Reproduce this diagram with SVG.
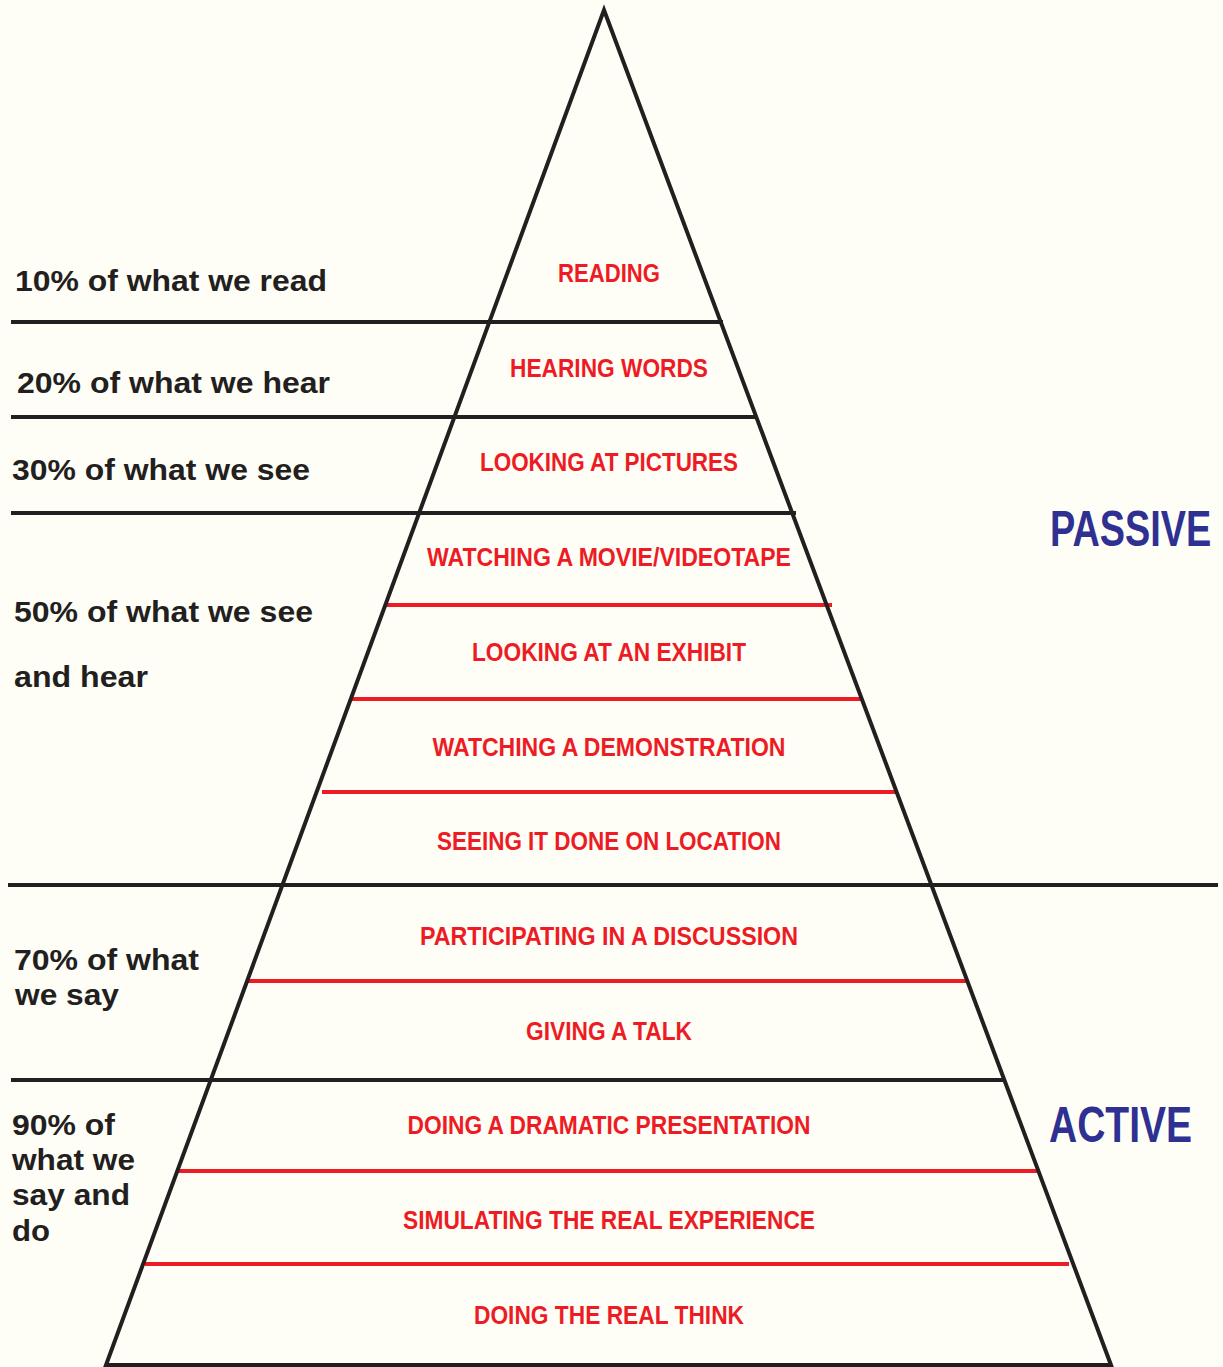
<svg xmlns="http://www.w3.org/2000/svg" width="1223" height="1367" viewBox="0 0 1223 1367">
  <style>
    .bg { fill: #fefef7; }
    .edge { fill: none; stroke: #231f20; stroke-width: 4; stroke-linejoin: miter; }
    .div { stroke: #231f20; stroke-width: 4; }
    .sub { stroke: #ed1c24; stroke-width: 4; }
    .lvl { font-family: "Liberation Sans", Arial, sans-serif; font-weight: bold; font-size: 30px; fill: #231f20; }
    .act { font-family: "Liberation Sans", Arial, sans-serif; font-weight: bold; font-size: 26px; fill: #ed1c24; text-anchor: middle; }
    .mode { font-family: "Liberation Sans", Arial, sans-serif; font-weight: bold; font-size: 50px; fill: #2e3192; }
  </style>
  <rect class="bg" x="0" y="0" width="1223" height="1367"/>

  <!-- divider lines -->
  <g id="connectors">
    <line class="div" x1="11" y1="322" x2="723" y2="322"/>
    <line class="div" x1="11" y1="417" x2="756" y2="417"/>
    <line class="div" x1="11" y1="513" x2="796" y2="513"/>
    <line class="div" x1="8" y1="885" x2="1218" y2="885"/>
    <line class="div" x1="11" y1="1080" x2="1004" y2="1080"/>
    <line class="sub" x1="386" y1="605" x2="832" y2="605"/>
    <line class="sub" x1="352" y1="699" x2="862" y2="699"/>
    <line class="sub" x1="322" y1="792" x2="897" y2="792"/>
    <line class="sub" x1="248" y1="981" x2="968" y2="981"/>
    <line class="sub" x1="178" y1="1171" x2="1038" y2="1171"/>
    <line class="sub" x1="145" y1="1264" x2="1069" y2="1264"/>
  </g>

  <!-- pyramid outline -->
  <g id="pyramid">
    <polygon class="edge" points="604,10 1111,1365 106,1365"/>
  </g>

  <!-- retention levels -->
  <g id="level-10">
    <text class="lvl" x="15" y="291" textLength="312" lengthAdjust="spacingAndGlyphs">10% of what we read</text>
  </g>
  <g id="level-20">
    <text class="lvl" x="17" y="393" textLength="313" lengthAdjust="spacingAndGlyphs">20% of what we hear</text>
  </g>
  <g id="level-30">
    <text class="lvl" x="12" y="480" textLength="298" lengthAdjust="spacingAndGlyphs">30% of what we see</text>
  </g>
  <g id="level-50">
    <text class="lvl" x="14" y="622" textLength="299" lengthAdjust="spacingAndGlyphs">50% of what we see</text>
    <text class="lvl" x="14" y="687" textLength="134" lengthAdjust="spacingAndGlyphs">and hear</text>
  </g>
  <g id="level-70">
    <text class="lvl" x="14" y="970" textLength="185" lengthAdjust="spacingAndGlyphs">70% of what</text>
    <text class="lvl" x="15" y="1005" textLength="104" lengthAdjust="spacingAndGlyphs">we say</text>
  </g>
  <g id="level-90">
    <text class="lvl" x="12" y="1135" textLength="103" lengthAdjust="spacingAndGlyphs">90% of</text>
    <text class="lvl" x="12" y="1170" textLength="123" lengthAdjust="spacingAndGlyphs">what we</text>
    <text class="lvl" x="12" y="1205" textLength="118" lengthAdjust="spacingAndGlyphs">say and</text>
    <text class="lvl" x="12" y="1241" textLength="38" lengthAdjust="spacingAndGlyphs">do</text>
  </g>

  <!-- activities -->
  <g id="reading"><text class="act" x="609" y="282" textLength="102" lengthAdjust="spacingAndGlyphs">READING</text></g>
  <g id="hearing-words"><text class="act" x="609" y="377" textLength="198" lengthAdjust="spacingAndGlyphs">HEARING WORDS</text></g>
  <g id="looking-at-pictures"><text class="act" x="609" y="471" textLength="258" lengthAdjust="spacingAndGlyphs">LOOKING AT PICTURES</text></g>
  <g id="watching-movie"><text class="act" x="609" y="566" textLength="364" lengthAdjust="spacingAndGlyphs">WATCHING A MOVIE/VIDEOTAPE</text></g>
  <g id="looking-at-exhibit"><text class="act" x="609" y="661" textLength="274" lengthAdjust="spacingAndGlyphs">LOOKING AT AN EXHIBIT</text></g>
  <g id="watching-demonstration"><text class="act" x="609" y="756" textLength="353" lengthAdjust="spacingAndGlyphs">WATCHING A DEMONSTRATION</text></g>
  <g id="seeing-on-location"><text class="act" x="609" y="850" textLength="344" lengthAdjust="spacingAndGlyphs">SEEING IT DONE ON LOCATION</text></g>
  <g id="participating-discussion"><text class="act" x="609" y="945" textLength="378" lengthAdjust="spacingAndGlyphs">PARTICIPATING IN A DISCUSSION</text></g>
  <g id="giving-talk"><text class="act" x="609" y="1040" textLength="166" lengthAdjust="spacingAndGlyphs">GIVING A TALK</text></g>
  <g id="dramatic-presentation"><text class="act" x="609" y="1134" textLength="403" lengthAdjust="spacingAndGlyphs">DOING A DRAMATIC PRESENTATION</text></g>
  <g id="simulating-experience"><text class="act" x="609" y="1229" textLength="412" lengthAdjust="spacingAndGlyphs">SIMULATING THE REAL EXPERIENCE</text></g>
  <g id="doing-real-think"><text class="act" x="609" y="1324" textLength="270" lengthAdjust="spacingAndGlyphs">DOING THE REAL THINK</text></g>

  <!-- learning modes, horizontally condensed -->
  <g id="passive"><text class="mode" transform="translate(1050,546) scale(0.757,1)">PASSIVE</text></g>
  <g id="active"><text class="mode" transform="translate(1049,1142) scale(0.78,1)">ACTIVE</text></g>
</svg>
